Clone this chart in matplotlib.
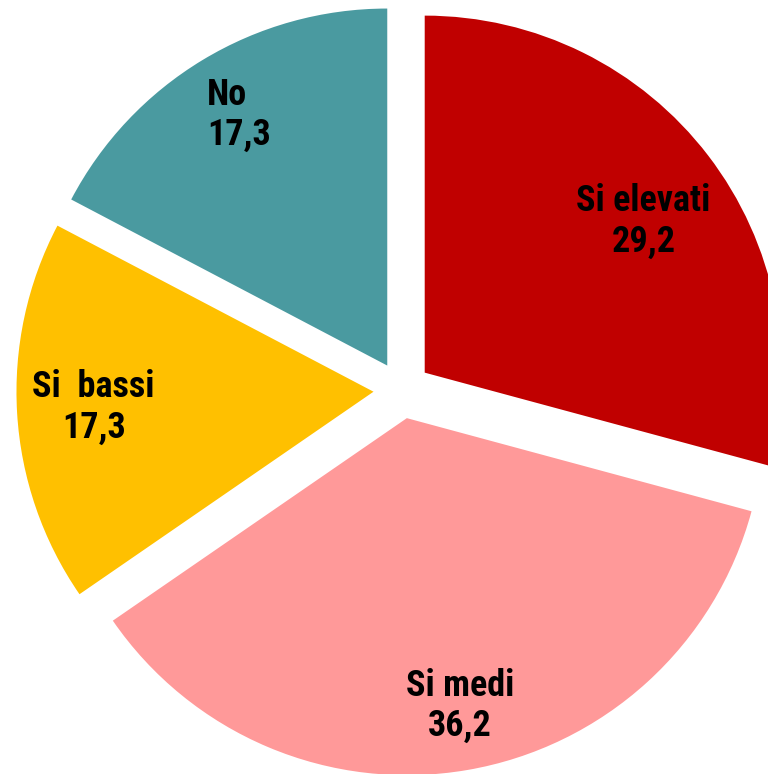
import matplotlib.pyplot as plt
import numpy as np

# ~~~ Data ~~~
categories = ['Si elevati', 'Si medi', 'Si  bassi', 'No']
values = [29.2, 36.2, 17.3, 17.3]
colors = ['#C00000', '#FF9999', '#FFC000', '#4A9AA0']

# label placement (radius from pie centre, angle shift in degrees)
label_radius = [0.825, 0.90, 0.865, 0.90]
label_shift = [-2.5, 0.7, -0.2, 0.0]
label_align = ['center', 'center', 'center', 'left']

plt.rcParams['font.family'] = ['Roboto Condensed', 'Liberation Sans', 'DejaVu Sans']

fig = plt.figure(figsize=(7.68, 7.74), dpi=100)
ax = fig.add_axes([0, 0, 1, 1])

wedges, _ = ax.pie(values, colors=colors, startangle=90, counterclock=False,
                   explode=[0.08] * len(values), radius=1.0,
                   wedgeprops={'linewidth': 0})

# labels at the middle angle of each wedge
for w, name, val, r, sh, al in zip(wedges, categories, values, label_radius,
                                   label_shift, label_align):
    thetam = np.deg2rad((w.theta1 + w.theta2) / 2.0 + sh)
    x = r * np.cos(thetam)
    y = r * np.sin(thetam)
    txt = name + '\n' + ('%.1f' % val).replace('.', ',')
    if al == 'left':
        ax.text(x - 0.08, y, txt, ha='left', va='center', multialignment='left',
                fontsize=26, fontweight='bold', linespacing=1.15)
    else:
        ax.text(x, y, txt, ha='center', va='center', multialignment='center',
                fontsize=26, fontweight='bold', linespacing=1.15)

ax.set_xlim(-1.126, 1.025)
ax.set_ylim(-1.0756, 1.0924)
ax.set_aspect('auto')
ax.axis('off')

fig.savefig('out.png', dpi=100)
